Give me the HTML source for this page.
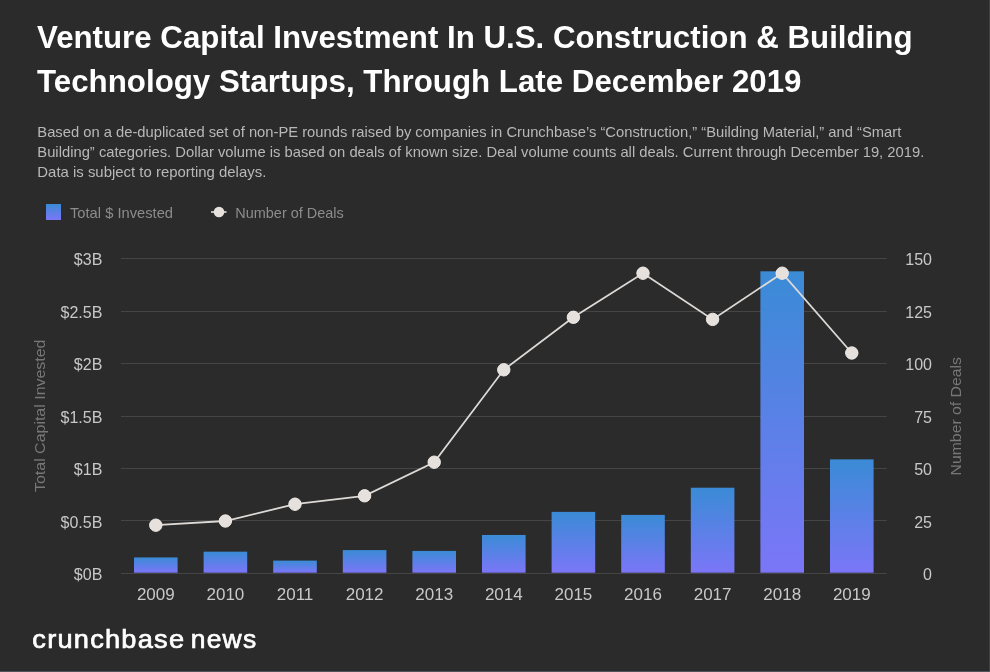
<!DOCTYPE html>
<html><head><meta charset="utf-8">
<style>
html,body{margin:0;padding:0;background:#2b2b2b;}
body{width:990px;height:672px;overflow:hidden;position:relative;font-family:"Liberation Sans",sans-serif;}
svg{position:absolute;left:0;top:0;will-change:transform;}
text{font-family:"Liberation Sans",sans-serif;}
.ttl{font-weight:bold;font-size:32px;fill:#ffffff;}
.sub{font-size:14.5px;fill:#b8b8b8;}
.leg{font-size:14.5px;fill:#8c8c8c;}
.ax{font-size:16px;fill:#c8c8c8;}
.yr{font-size:17px;fill:#c8c8c8;}
.axt{font-size:15px;fill:#777777;}
.logo{font-size:26.5px;font-weight:normal;fill:#ffffff;stroke:#ffffff;stroke-width:0.7px;letter-spacing:1.2px;}
</style></head><body>
<svg width="990" height="672" viewBox="0 0 990 672">
<defs>
<linearGradient id="g" x1="0" y1="0" x2="0" y2="1">
<stop offset="0" stop-color="#3a8bd6"/>
<stop offset="1" stop-color="#7b76f7"/>
</linearGradient>
</defs>
<rect x="0" y="0" width="990" height="672" fill="#2b2b2b"/>
<rect x="989" y="0" width="1" height="672" fill="#3e4043"/>
<rect x="0" y="671" width="990" height="1" fill="#50545c"/>
<text class="ttl" x="37" y="48.3" textLength="875.5" lengthAdjust="spacingAndGlyphs">Venture Capital Investment In U.S. Construction &amp; Building</text>
<text class="ttl" x="37" y="91.8" textLength="764.5" lengthAdjust="spacingAndGlyphs">Technology Startups, Through Late December 2019</text>
<text class="sub" x="37.3" y="136.8" textLength="864" lengthAdjust="spacingAndGlyphs">Based on a de-duplicated set of non-PE rounds raised by companies in Crunchbase’s “Construction,” “Building Material,” and “Smart</text>
<text class="sub" x="37.3" y="157" textLength="887" lengthAdjust="spacingAndGlyphs">Building” categories. Dollar volume is based on deals of known size. Deal volume counts all deals. Current through December 19, 2019.</text>
<text class="sub" x="37.3" y="176.6" textLength="229" lengthAdjust="spacingAndGlyphs">Data is subject to reporting delays.</text>
<rect x="46" y="204" width="15" height="16" fill="url(#g)"/>
<text class="leg" x="70" y="217.6" textLength="103" lengthAdjust="spacingAndGlyphs">Total $ Invested</text>
<line x1="211" x2="226.5" y1="212" y2="212" stroke="#e6e1dc" stroke-width="1.6"/>
<circle cx="219" cy="212" r="5.3" fill="#e6e1dc"/>
<text class="leg" x="235.3" y="217.6" textLength="108.5" lengthAdjust="spacingAndGlyphs">Number of Deals</text>
<text class="axt" transform="translate(44.8,416) rotate(-90)" x="-76" textLength="152.5" lengthAdjust="spacingAndGlyphs">Total Capital Invested</text>
<text class="axt" transform="translate(960.8,416) rotate(-90)" x="-59.5" textLength="118.5" lengthAdjust="spacingAndGlyphs">Number of Deals</text>
<line x1="121" x2="886.8" y1="520.50" y2="520.50" stroke="#454545" stroke-width="1"/>
<line x1="121" x2="886.8" y1="468.50" y2="468.50" stroke="#454545" stroke-width="1"/>
<line x1="121" x2="886.8" y1="416.50" y2="416.50" stroke="#454545" stroke-width="1"/>
<line x1="121" x2="886.8" y1="363.50" y2="363.50" stroke="#454545" stroke-width="1"/>
<line x1="121" x2="886.8" y1="311.50" y2="311.50" stroke="#454545" stroke-width="1"/>
<line x1="121" x2="886.8" y1="258.50" y2="258.50" stroke="#454545" stroke-width="1"/>
<rect x="134.00" y="557.43" width="43.6" height="15.27" fill="url(#g)"/>
<rect x="203.60" y="551.66" width="43.6" height="21.04" fill="url(#g)"/>
<rect x="273.20" y="560.59" width="43.6" height="12.11" fill="url(#g)"/>
<rect x="342.80" y="550.09" width="43.6" height="22.61" fill="url(#g)"/>
<rect x="412.40" y="550.92" width="43.6" height="21.77" fill="url(#g)"/>
<rect x="482.00" y="534.97" width="43.6" height="37.73" fill="url(#g)"/>
<rect x="551.60" y="511.87" width="43.6" height="60.84" fill="url(#g)"/>
<rect x="621.20" y="514.91" width="43.6" height="57.79" fill="url(#g)"/>
<rect x="690.80" y="487.72" width="43.6" height="84.98" fill="url(#g)"/>
<rect x="760.40" y="271.31" width="43.6" height="301.39" fill="url(#g)"/>
<rect x="830.00" y="459.37" width="43.6" height="113.33" fill="url(#g)"/>
<line x1="121" x2="886.8" y1="573.5" y2="573.5" stroke="#454545" stroke-width="1"/>
<polyline fill="none" stroke="#dcd9d6" stroke-width="1.8" points="155.80,525.20 225.40,521.00 295.00,504.20 364.60,495.80 434.20,462.20 503.80,369.80 573.40,317.30 643.00,273.20 712.60,319.40 782.20,273.20 851.80,353.00"/>
<circle cx="155.80" cy="525.20" r="6.2" fill="#e6e1dc" stroke="#eeebe8" stroke-width="1"/>
<circle cx="225.40" cy="521.00" r="6.2" fill="#e6e1dc" stroke="#eeebe8" stroke-width="1"/>
<circle cx="295.00" cy="504.20" r="6.2" fill="#e6e1dc" stroke="#eeebe8" stroke-width="1"/>
<circle cx="364.60" cy="495.80" r="6.2" fill="#e6e1dc" stroke="#eeebe8" stroke-width="1"/>
<circle cx="434.20" cy="462.20" r="6.2" fill="#e6e1dc" stroke="#eeebe8" stroke-width="1"/>
<circle cx="503.80" cy="369.80" r="6.2" fill="#e6e1dc" stroke="#eeebe8" stroke-width="1"/>
<circle cx="573.40" cy="317.30" r="6.2" fill="#e6e1dc" stroke="#eeebe8" stroke-width="1"/>
<circle cx="643.00" cy="273.20" r="6.2" fill="#e6e1dc" stroke="#eeebe8" stroke-width="1"/>
<circle cx="712.60" cy="319.40" r="6.2" fill="#e6e1dc" stroke="#eeebe8" stroke-width="1"/>
<circle cx="782.20" cy="273.20" r="6.2" fill="#e6e1dc" stroke="#eeebe8" stroke-width="1"/>
<circle cx="851.80" cy="353.00" r="6.2" fill="#e6e1dc" stroke="#eeebe8" stroke-width="1"/>
<text x="155.80" y="600.3" text-anchor="middle" class="yr">2009</text>
<text x="225.40" y="600.3" text-anchor="middle" class="yr">2010</text>
<text x="295.00" y="600.3" text-anchor="middle" class="yr">2011</text>
<text x="364.60" y="600.3" text-anchor="middle" class="yr">2012</text>
<text x="434.20" y="600.3" text-anchor="middle" class="yr">2013</text>
<text x="503.80" y="600.3" text-anchor="middle" class="yr">2014</text>
<text x="573.40" y="600.3" text-anchor="middle" class="yr">2015</text>
<text x="643.00" y="600.3" text-anchor="middle" class="yr">2016</text>
<text x="712.60" y="600.3" text-anchor="middle" class="yr">2017</text>
<text x="782.20" y="600.3" text-anchor="middle" class="yr">2018</text>
<text x="851.80" y="600.3" text-anchor="middle" class="yr">2019</text>
<text x="102.3" y="580.10" text-anchor="end" class="ax">$0B</text>
<text x="932" y="580.10" text-anchor="end" class="ax">0</text>
<text x="102.3" y="527.60" text-anchor="end" class="ax">$0.5B</text>
<text x="932" y="527.60" text-anchor="end" class="ax">25</text>
<text x="102.3" y="475.10" text-anchor="end" class="ax">$1B</text>
<text x="932" y="475.10" text-anchor="end" class="ax">50</text>
<text x="102.3" y="422.60" text-anchor="end" class="ax">$1.5B</text>
<text x="932" y="422.60" text-anchor="end" class="ax">75</text>
<text x="102.3" y="370.10" text-anchor="end" class="ax">$2B</text>
<text x="932" y="370.10" text-anchor="end" class="ax">100</text>
<text x="102.3" y="317.60" text-anchor="end" class="ax">$2.5B</text>
<text x="932" y="317.60" text-anchor="end" class="ax">125</text>
<text x="102.3" y="265.10" text-anchor="end" class="ax">$3B</text>
<text x="932" y="265.10" text-anchor="end" class="ax">150</text>
<text class="logo" x="32.3" y="648" textLength="153" lengthAdjust="spacingAndGlyphs">crunchbase</text><text class="logo" x="190.8" y="648" textLength="66.5" lengthAdjust="spacingAndGlyphs">news</text>
</svg>
</body></html>
